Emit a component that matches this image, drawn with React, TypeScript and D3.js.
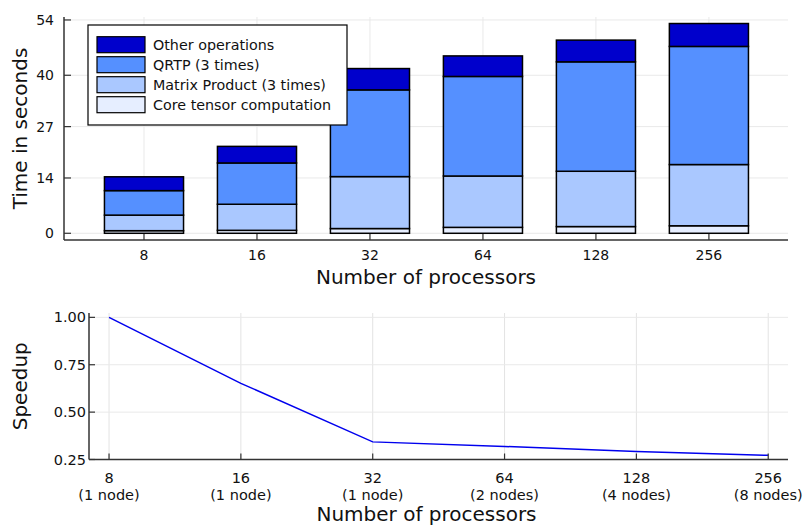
import React, {useEffect, useRef} from 'react';
import * as d3 from 'd3';

const processors = ['8', '16', '32', '64', '128', '256'];
const nodeLabels = ['(1 node)', '(1 node)', '(1 node)', '(2 nodes)', '(4 nodes)', '(8 nodes)'];

// stacked components, bottom to top
const coreTensor = [0.66, 0.75, 1.2, 1.5, 1.7, 1.9];
const matrixProduct = [3.94, 6.6, 13.15, 13.0, 14.0, 15.5];
const qrtp = [6.2, 10.45, 21.95, 25.2, 27.7, 29.9];
const otherOps = [3.5, 4.2, 5.4, 5.2, 5.5, 5.8];

const speedup = [1.0, 0.652, 0.343, 0.319, 0.292, 0.272];

const timeTicks = [0, 14, 27, 40, 54];
const speedTicks = [0.25, 0.5, 0.75, 1.0];

const seriesNames = ['Core tensor computation', 'Matrix Product (3 times)', 'QRTP (3 times)', 'Other operations'];
const seriesColors = ['#e6eeff', '#aac8ff', '#5590ff', '#0000cc'];

const FONT = 'DejaVu Sans, sans-serif';

const App = () => {
    const svgRef = useRef(null);

    useEffect(() => {
        const svg = d3.select(svgRef.current);
        svg.selectAll('*').remove();

        // ---------- top chart: stacked bars ----------
        const top = {left: 64, right: 788, top: 17, bottom: 240};
        const x1 = d3.scaleLinear().domain([0.292, 6.70]).range([top.left, top.right]);
        const y1 = d3.scaleLinear().domain([-1.7, 54.75]).range([top.bottom, top.top]);
        const barW = x1(1.35) - x1(0.65);

        const g1 = svg.append('g');

        // grid
        g1.selectAll('.vg').data(processors).enter().append('line')
            .attr('x1', (d, i) => x1(i + 1)).attr('x2', (d, i) => x1(i + 1))
            .attr('y1', top.top).attr('y2', top.bottom)
            .attr('stroke', '#e9e9e9').attr('stroke-width', 1);
        g1.selectAll('.hg').data(timeTicks).enter().append('line')
            .attr('x1', top.left).attr('x2', top.right)
            .attr('y1', (d) => y1(d)).attr('y2', (d) => y1(d))
            .attr('stroke', '#e9e9e9').attr('stroke-width', 1);

        // stacks
        const rows = processors.map((p, i) => ({
            p,
            i,
            s0: coreTensor[i],
            s1: matrixProduct[i],
            s2: qrtp[i],
            s3: otherOps[i],
        }));
        const stack = d3.stack().keys(['s0', 's1', 's2', 's3']);
        const layers = stack(rows);
        layers.forEach((layer, li) => {
            g1.append('g').selectAll('rect').data(layer).enter().append('rect')
                .attr('x', (d, i) => x1(i + 1) - barW / 2)
                .attr('width', barW)
                .attr('y', (d) => y1(d[1]))
                .attr('height', (d) => y1(d[0]) - y1(d[1]))
                .attr('fill', seriesColors[li])
                .attr('stroke', '#000')
                .attr('stroke-width', 1.5);
        });

        // axes
        g1.append('line').attr('x1', top.left).attr('x2', top.left).attr('y1', top.top).attr('y2', top.bottom)
            .attr('stroke', '#333').attr('stroke-width', 1.5);
        g1.append('line').attr('x1', top.left).attr('x2', top.right).attr('y1', top.bottom).attr('y2', top.bottom)
            .attr('stroke', '#333').attr('stroke-width', 1.5);
        timeTicks.forEach((t) => {
            g1.append('line').attr('x1', top.left).attr('x2', top.left + 7).attr('y1', y1(t)).attr('y2', y1(t))
                .attr('stroke', '#333').attr('stroke-width', 1.2);
            g1.append('text').attr('x', top.left - 10).attr('y', y1(t)).attr('dy', '0.35em')
                .attr('text-anchor', 'end').attr('font-family', FONT).attr('font-size', 14).attr('fill', '#111')
                .text(String(t));
        });
        processors.forEach((p, i) => {
            g1.append('line').attr('x1', x1(i + 1)).attr('x2', x1(i + 1)).attr('y1', top.bottom).attr('y2', top.bottom - 6)
                .attr('stroke', '#333').attr('stroke-width', 1.2);
            g1.append('text').attr('x', x1(i + 1)).attr('y', 255).attr('dy', '0.35em')
                .attr('text-anchor', 'middle').attr('font-family', FONT).attr('font-size', 14).attr('fill', '#111')
                .text(p);
        });
        g1.append('text').attr('x', (top.left + top.right) / 2).attr('y', 277).attr('dy', '0.35em')
            .attr('text-anchor', 'middle').attr('font-family', FONT).attr('font-size', 20).attr('fill', '#111')
            .text('Number of processors');
        g1.append('text').attr('transform', `translate(20,${(top.top + top.bottom) / 2}) rotate(-90)`).attr('dy', '0.35em')
            .attr('text-anchor', 'middle').attr('font-family', FONT).attr('font-size', 20).attr('fill', '#111')
            .text('Time in seconds');

        // legend
        const lg = g1.append('g');
        lg.append('rect').attr('x', 88).attr('y', 25).attr('width', 259).attr('height', 100)
            .attr('fill', '#fff').attr('stroke', '#000').attr('stroke-width', 1.2);
        const legendOrder = [3, 2, 1, 0];
        legendOrder.forEach((si, k) => {
            const cy = 44.7 + k * 20;
            lg.append('rect').attr('x', 97).attr('y', cy - 8).attr('width', 48).attr('height', 16)
                .attr('fill', seriesColors[si]).attr('stroke', '#000').attr('stroke-width', 1.2);
            lg.append('text').attr('x', 153).attr('y', cy).attr('dy', '0.35em')
                .attr('font-family', FONT).attr('font-size', 14.3).attr('fill', '#111')
                .text(seriesNames[si]);
        });

        // ---------- bottom chart: speedup ----------
        const bot = {left: 89, right: 788, top: 313, bottom: 459.5};
        const x2 = d3.scaleLinear().domain([0.848, 6.15]).range([bot.left, bot.right]);
        const y2 = d3.scaleLinear().domain([0.25, 1.023]).range([bot.bottom, bot.top]);
        const g2 = svg.append('g');

        g2.selectAll('.vg').data(processors).enter().append('line')
            .attr('x1', (d, i) => x2(i + 1)).attr('x2', (d, i) => x2(i + 1))
            .attr('y1', bot.top).attr('y2', bot.bottom)
            .attr('stroke', '#e3e3e3').attr('stroke-width', 1);
        g2.selectAll('.hg').data(speedTicks).enter().append('line')
            .attr('x1', bot.left).attr('x2', bot.right)
            .attr('y1', (d) => y2(d)).attr('y2', (d) => y2(d))
            .attr('stroke', '#e9e9e9').attr('stroke-width', 1);

        const line = d3.line()
            .x((d, i) => x2(i + 1))
            .y((d) => y2(d));
        g2.append('path').datum(speedup).attr('d', line)
            .attr('fill', 'none').attr('stroke', '#0000ee').attr('stroke-width', 1.5);

        g2.append('line').attr('x1', bot.left).attr('x2', bot.left).attr('y1', bot.top).attr('y2', bot.bottom)
            .attr('stroke', '#333').attr('stroke-width', 1.5);
        g2.append('line').attr('x1', bot.left).attr('x2', bot.right).attr('y1', bot.bottom).attr('y2', bot.bottom)
            .attr('stroke', '#333').attr('stroke-width', 1.5);
        speedTicks.forEach((t) => {
            g2.append('line').attr('x1', bot.left).attr('x2', bot.left + 6).attr('y1', y2(t)).attr('y2', y2(t))
                .attr('stroke', '#333').attr('stroke-width', 1.2);
            g2.append('text').attr('x', bot.left - 3).attr('y', y2(t)).attr('dy', '0.35em')
                .attr('text-anchor', 'end').attr('font-family', FONT).attr('font-size', 14.5).attr('fill', '#111')
                .text(t.toFixed(2));
        });
        processors.forEach((p, i) => {
            g2.append('line').attr('x1', x2(i + 1)).attr('x2', x2(i + 1)).attr('y1', bot.bottom).attr('y2', bot.bottom - 6)
                .attr('stroke', '#333').attr('stroke-width', 1.2);
            g2.append('text').attr('x', x2(i + 1)).attr('y', 478).attr('dy', '0.35em')
                .attr('text-anchor', 'middle').attr('font-family', FONT).attr('font-size', 14.5).attr('fill', '#111')
                .text(p);
            g2.append('text').attr('x', x2(i + 1)).attr('y', 495).attr('dy', '0.35em')
                .attr('text-anchor', 'middle').attr('font-family', FONT).attr('font-size', 14.5).attr('fill', '#111')
                .text(nodeLabels[i]);
        });
        g2.append('text').attr('x', (bot.left + bot.right) / 2 - 12).attr('y', 514).attr('dy', '0.35em')
            .attr('text-anchor', 'middle').attr('font-family', FONT).attr('font-size', 20).attr('fill', '#111')
            .text('Number of processors');
        g2.append('text').attr('transform', `translate(20,${(bot.top + bot.bottom) / 2}) rotate(-90)`).attr('dy', '0.35em')
            .attr('text-anchor', 'middle').attr('font-family', FONT).attr('font-size', 20).attr('fill', '#111')
            .text('Speedup');
    }, []);

    return (
        <svg ref={svgRef} width={805} height={527} style={{position: 'absolute', left: 0, top: 0, background: '#fff'}} />
    );
};

export default App;
